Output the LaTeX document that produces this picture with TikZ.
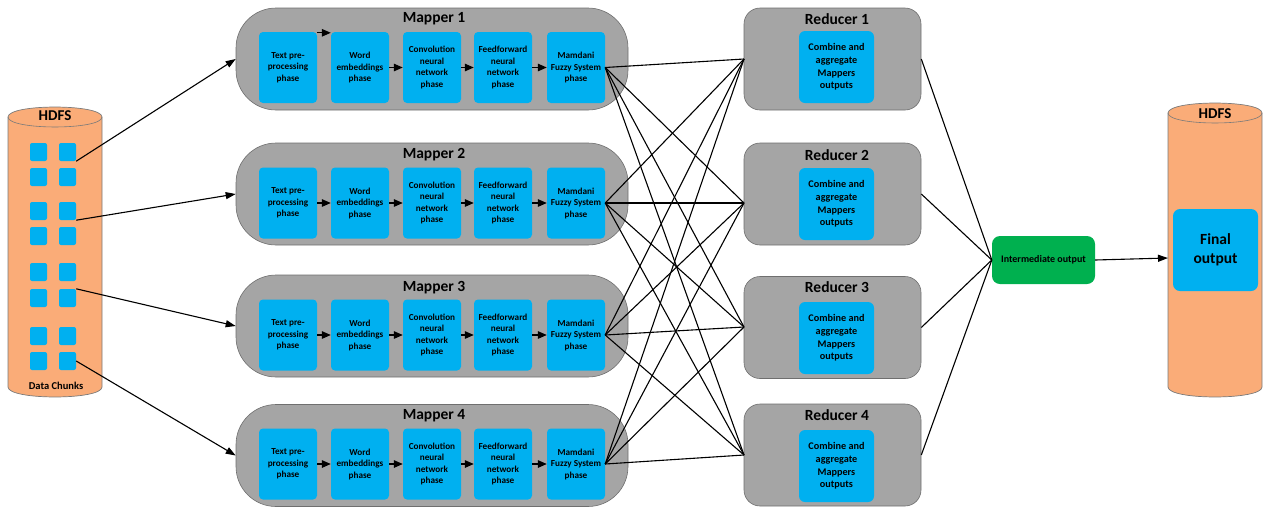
\documentclass[tikz,border=0pt]{standalone}
\usepackage{fontspec}
\setmainfont{Carlito}
\usetikzlibrary{arrows.meta}

\definecolor{drumfill}{HTML}{FAAC78}
\definecolor{drumline}{HTML}{7A7A7A}
\definecolor{boxblue}{HTML}{00B0F0}
\definecolor{stagegray}{HTML}{A5A5A5}
\definecolor{stageline}{HTML}{6F6F6F}
\definecolor{midgreen}{HTML}{00B04F}

\tikzset{
  drum/.style={fill=drumfill, draw=drumline, line width=0.7pt},
  drumrim/.style={draw=drumline, line width=0.6pt},
  chunk/.style={fill=boxblue, rounded corners=2pt, minimum width=17pt, minimum height=18pt, inner sep=0pt},
  stagebox/.style={fill=stagegray, draw=stageline, line width=0.6pt, inner sep=0pt},
  mapperbox/.style={stagebox, rounded corners=40pt, minimum width=392pt, minimum height=102pt},
  reducerbox/.style={stagebox, rounded corners=16pt, minimum width=177pt, minimum height=102pt},
  phase/.style={fill=boxblue, rounded corners=4pt, minimum width=58pt, minimum height=71pt,
    inner sep=0pt, align=center, font=\bfseries\fontsize{9.2}{11.5}\selectfont},
  combine/.style={fill=boxblue, rounded corners=6pt, minimum width=75pt, minimum height=72pt,
    inner sep=0pt, align=center, font=\bfseries\fontsize{10.2}{12.7}\selectfont},
  stagetitle/.style={font=\bfseries\fontsize{15.5}{18}\selectfont, inner sep=0pt},
  flow/.style={line width=1.3pt, -{Triangle[length=9pt,width=7.5pt]}},
  feed/.style={line width=1.1pt, -{Triangle[length=10pt,width=7pt]}},
  link/.style={line width=1.1pt},
}

\begin{document}
\begin{tikzpicture}[x=1pt, y=-1pt]
\useasboundingbox (0,0) rectangle (1263,507);

% ---------- input storage ----------
\filldraw[drum] (8,117) -- (8,387) .. controls (8,400.3) and (102,400.3) .. (102,387)
  -- (102,117) .. controls (102,103.7) and (8,103.7) .. (8,117) -- cycle;
\draw[drumrim] (8,117) .. controls (8,130.3) and (102,130.3) .. (102,117);
\node[font=\bfseries\fontsize{15}{18}\selectfont, inner sep=0pt] (hdfsin) at (55,116) {HDFS};
\node[font=\bfseries\fontsize{10.5}{12}\selectfont, inner sep=0pt] (chunks) at (56,386) {Data Chunks};

\foreach \r/\cy in {1/152, 2/177, 3/211, 4/236, 5/272, 6/298, 7/336, 8/361} {
  \node[chunk] (c\r-1) at (38.5,\cy) {};
  \node[chunk] (c\r-2) at (67.5,\cy) {};
}

% ---------- mappers ----------
\foreach \i/\by/\py/\ty in {1/59/67.5/19, 2/194/203/155, 3/326/335/288, 4/455.5/464/416} {
  \node[mapperbox] (m\i) at (432,\by) {};
  \node[stagetitle] (m\i-t) at (434,\ty) {Mapper \i};
  \node[phase] (m\i-p1) at (288,\py) {Text pre-\\processing\\phase};
  \node[phase] (m\i-p2) at (360,\py) {Word\\embeddings\\phase};
  \node[phase] (m\i-p3) at (432,\py) {Convolution\\neural\\network\\phase};
  \node[phase] (m\i-p4) at (503,\py) {Feedforward\\neural\\network\\phase};
  \node[phase] (m\i-p5) at (576,\py) {Mamdani\\Fuzzy System\\phase};
  \draw[flow] (m\i-p2) -- (m\i-p3);
  \draw[flow] (m\i-p3) -- (m\i-p4);
  \draw[flow] (m\i-p4) -- (m\i-p5);
}
\draw[flow] ([yshift=-1pt]m1-p1.north east) -- ([yshift=-1pt]m1-p2.north west);
\foreach \i in {2,3,4} \draw[flow] (m\i-p1) -- (m\i-p2);

% chunks dispatched to the mappers
\draw[feed] (c1-2.south east) -- (m1.west);
\draw[feed] (c3-2.south east) -- (m2.west);
\draw[feed] (c6-2.north east) -- (m3.west);
\draw[feed] (c8-2.east) -- (m4.west);

% ---------- reducers ----------
\foreach \j/\by/\iy/\ty/\ey in {1/59/67/19/59, 2/194/204/155/203, 3/327.5/338/287/327, 4/455/466/415/455} {
  \node[reducerbox] (r\j) at (832.5,\by) {};
  \node[stagetitle] (r\j-t) at (837,\ty) {Reducer \j};
  \node[combine] (r\j-c) at (836.5,\iy) {Combine and\\aggregate\\Mappers\\outputs};
  \coordinate (r\j-in) at (744,\ey);
}

% every mapper feeds every reducer
\foreach \i in {1,...,4}
  \foreach \j in {1,...,4}
    \draw[link] (m\i-p5.east) -- (r\j-in);

% ---------- intermediate and final output ----------
\node[fill=midgreen, rounded corners=8pt, minimum width=103pt, minimum height=48pt, inner sep=0pt,
  font=\bfseries\fontsize{10}{12}\selectfont] (inter) at (1043.5,260) {Intermediate output};
\foreach \j in {1,...,4} \draw[link] (r\j.east) -- (inter.west);

\filldraw[drum] (1168,113) -- (1168,387) .. controls (1168,400.3) and (1262,400.3) .. (1262,387)
  -- (1262,113) .. controls (1262,99.7) and (1168,99.7) .. (1168,113) -- cycle;
\draw[drumrim] (1168,113) .. controls (1168,126.3) and (1262,126.3) .. (1262,113);
\node[font=\bfseries\fontsize{15}{18}\selectfont, inner sep=0pt] (hdfsout) at (1215,114) {HDFS};
\node[fill=boxblue, rounded corners=7pt, minimum width=85pt, minimum height=82pt, inner sep=0pt,
  align=center, font=\bfseries\fontsize{15.5}{19}\selectfont] (final) at (1215.5,250) {Final\\output};
\coordinate (hdfsout-w) at (1168,258);
\draw[feed] (inter.east) -- (hdfsout-w);

\end{tikzpicture}
\end{document}
